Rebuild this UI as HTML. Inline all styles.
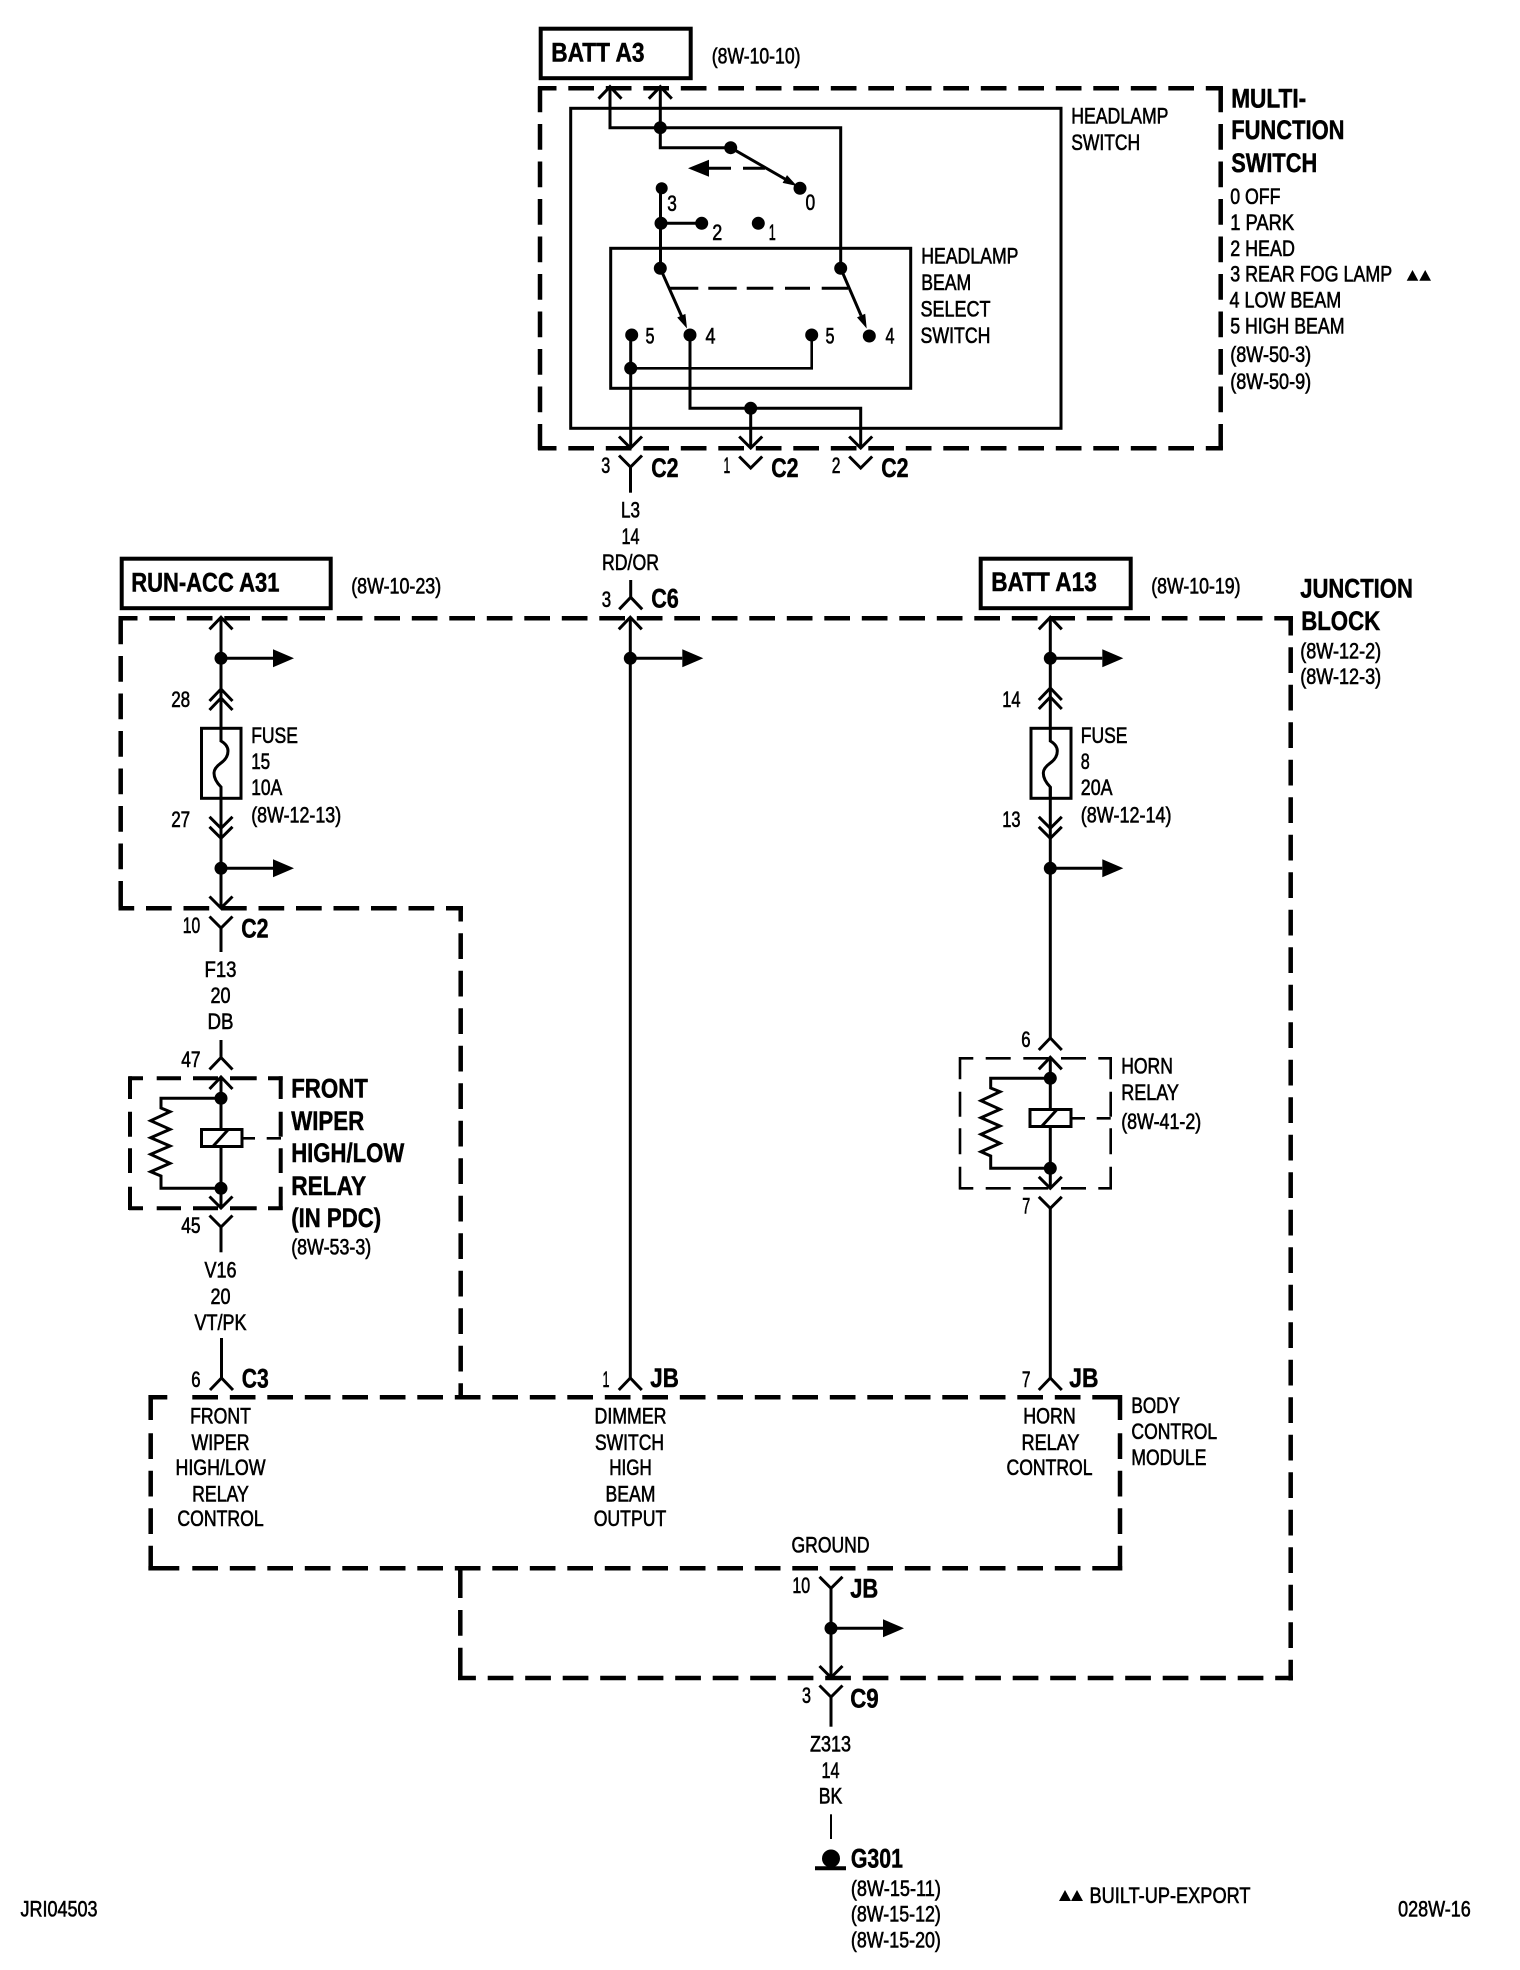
<!DOCTYPE html>
<html>
<head>
<meta charset="utf-8">
<style>
html,body{margin:0;padding:0;background:#fff}
svg{display:block}
text{font-family:"Liberation Sans",sans-serif;font-size:22px;fill:#000;stroke:#000;stroke-width:.6;transform:translate(-.5px,-.8px)}
text.b{font-weight:700;font-size:27px;stroke-width:.5}
text.m{text-anchor:middle}
.w{fill:none;stroke:#000;stroke-width:3}
.d{fill:none;stroke:#000;stroke-width:4.5;stroke-dasharray:25.7 11.8}
.s{fill:none;stroke:#000;stroke-width:4.5}
.t{fill:none;stroke:#000;stroke-width:4}
.h{fill:none;stroke:#000;stroke-width:2.6}
</style>
</head>
<body>
<svg xmlns="http://www.w3.org/2000/svg" width="1520" height="1970" viewBox="0 0 1520 1970">
<defs>
<path id="up" d="M-11.5,12 L0,0 L11.5,12" fill="none" stroke="#000" stroke-width="3"/>
<path id="dn" d="M-11.5,-11.5 L0,0 L11.5,-11.5" fill="none" stroke="#000" stroke-width="3"/>
<g id="br"><path d="M0,0H52" fill="none" stroke="#000" stroke-width="3"/><path d="M52,-9L73,0L52,9Z"/></g>
</defs>
<rect width="1520" height="1970" fill="#fff"/>

<!-- Multi-function switch -->
<rect x="540.7" y="28.7" width="150" height="49.5" class="t"/>
<path class="d" stroke-dashoffset="7.2" d="M538,88.3H1222.9"/>
<path class="d" stroke-dashoffset="7.2" d="M538,448.3H1222.9"/>
<path class="d" stroke-dashoffset="37" d="M540,86V450"/>
<path class="d" stroke-dashoffset="37" d="M1220.7,86V450"/>
<rect x="570.7" y="108.3" width="490.3" height="320" class="w"/>
<rect x="610.7" y="248.3" width="300" height="140" class="w"/>
<path class="w" d="M610,88V127.7H840.7V268.3"/>
<path class="w" d="M660.3,88V147.7H730.7"/>
<use href="#up" x="610" y="86.7"/><use href="#up" x="660.3" y="86.7"/>
<circle cx="660.3" cy="127.7" r="6.5"/>
<circle cx="730.7" cy="147.7" r="6.5"/>
<circle cx="800" cy="188.3" r="6.5"/>
<path class="w" stroke-width="3.5" d="M730.7,147.7L785,179"/>
<path d="M797,186L782.6,182.9L787,175.1Z"/>
<path d="M688,168.3L709,159.8V176.8Z"/>
<path class="w" d="M708,168.3H731M743,168.3H765"/>
<circle cx="661.7" cy="188.3" r="6"/>
<circle cx="661" cy="223.3" r="6.5"/>
<circle cx="701.7" cy="223.3" r="6.5"/>
<circle cx="758.3" cy="223.3" r="6.5"/>
<path class="w" d="M660.5,188.3V268.3M661,223.3H701.7"/>
<circle cx="660.3" cy="268.3" r="6.5"/>
<circle cx="840.7" cy="268.3" r="6.5"/>
<path class="w" d="M660.3,268.3L681.5,316M840.7,268.3L861.1,315.6"/>
<path d="M687,328.5L677.2,317.5L685.4,313.9Z"/>
<path d="M866.7,328.5L865.2,313.8L857,317.4Z"/>
<path class="w" d="M670,288.3H698.3M708.3,288.3H736.7M746.7,288.3H773.3M785,288.3H810M821.7,288.3H848"/>
<circle cx="631.7" cy="335" r="6.5"/>
<circle cx="690" cy="335" r="6.5"/>
<circle cx="811.7" cy="335" r="6.5"/>
<circle cx="869.3" cy="336" r="6.5"/>
<path class="w" d="M630.7,335V448"/>
<path class="h" d="M630.7,368.3H811.7V335"/>
<circle cx="630.7" cy="368.3" r="6.5"/>
<path class="w" d="M690,335V408.3H860.7V448M750.7,408.3V448"/>
<circle cx="750.7" cy="408.3" r="6.5"/>
<use href="#dn" x="630.5" y="448"/><use href="#dn" x="750.7" y="448"/><use href="#dn" x="860.7" y="448"/>
<use href="#dn" x="630.5" y="467"/><path class="w" d="M630.5,467V492.7"/>
<use href="#dn" x="750.7" y="468"/><use href="#dn" x="860.7" y="468"/>

<text class="b" x="551.7" y="62.3" textLength="93.3" lengthAdjust="spacingAndGlyphs">BATT A3</text>
<text x="712.3" y="64.3" textLength="88.7" lengthAdjust="spacingAndGlyphs">(8W-10-10)</text>
<text x="667.7" y="211.7" textLength="9.6" lengthAdjust="spacingAndGlyphs">3</text>
<text x="806" y="210.7" textLength="9.7" lengthAdjust="spacingAndGlyphs">0</text>
<text x="712.7" y="240.7" textLength="10" lengthAdjust="spacingAndGlyphs">2</text>
<text x="769.3" y="240.7" textLength="7" lengthAdjust="spacingAndGlyphs">1</text>
<text x="646" y="344.3" textLength="9" lengthAdjust="spacingAndGlyphs">5</text>
<text x="706" y="344.3" textLength="10" lengthAdjust="spacingAndGlyphs">4</text>
<text x="826" y="344.3" textLength="9" lengthAdjust="spacingAndGlyphs">5</text>
<text x="886" y="344.3" textLength="9" lengthAdjust="spacingAndGlyphs">4</text>
<text x="921.7" y="264.3" textLength="97.3" lengthAdjust="spacingAndGlyphs">HEADLAMP</text>
<text x="921.7" y="290.7" textLength="50" lengthAdjust="spacingAndGlyphs">BEAM</text>
<text x="921" y="317.3" textLength="70" lengthAdjust="spacingAndGlyphs">SELECT</text>
<text x="921" y="344" textLength="70" lengthAdjust="spacingAndGlyphs">SWITCH</text>
<text x="1071.7" y="124.3" textLength="97.3" lengthAdjust="spacingAndGlyphs">HEADLAMP</text>
<text x="1071.7" y="150.7" textLength="69" lengthAdjust="spacingAndGlyphs">SWITCH</text>
<text class="b" x="1231.7" y="108.3" textLength="75" lengthAdjust="spacingAndGlyphs">MULTI-</text>
<text class="b" x="1231.7" y="140" textLength="113.3" lengthAdjust="spacingAndGlyphs">FUNCTION</text>
<text class="b" x="1231.7" y="172.7" textLength="86" lengthAdjust="spacingAndGlyphs">SWITCH</text>
<text x="1230.7" y="205" textLength="50.3" lengthAdjust="spacingAndGlyphs">0 OFF</text>
<text x="1230.7" y="231" textLength="64" lengthAdjust="spacingAndGlyphs">1 PARK</text>
<text x="1230.7" y="256.7" textLength="64.7" lengthAdjust="spacingAndGlyphs">2 HEAD</text>
<text x="1230.7" y="282.3" textLength="162" lengthAdjust="spacingAndGlyphs">3 REAR FOG LAMP</text>
<text x="1230" y="308.3" textLength="111.7" lengthAdjust="spacingAndGlyphs">4 LOW BEAM</text>
<text x="1230.7" y="334.3" textLength="114.3" lengthAdjust="spacingAndGlyphs">5 HIGH BEAM</text>
<text x="1230.7" y="363" textLength="81" lengthAdjust="spacingAndGlyphs">(8W-50-3)</text>
<text x="1230.7" y="390" textLength="81" lengthAdjust="spacingAndGlyphs">(8W-50-9)</text>
<path d="M1412.5,270L1418.3,280.7H1406.7ZM1425.2,270L1431,280.7H1419.3Z"/>
<text x="601.7" y="474" textLength="9" lengthAdjust="spacingAndGlyphs">3</text>
<text class="b" x="651.7" y="477.7" textLength="27.3" lengthAdjust="spacingAndGlyphs">C2</text>
<text x="724" y="474" textLength="6.7" lengthAdjust="spacingAndGlyphs">1</text>
<text class="b" x="771.7" y="477.7" textLength="27.3" lengthAdjust="spacingAndGlyphs">C2</text>
<text x="832.3" y="474" textLength="8.7" lengthAdjust="spacingAndGlyphs">2</text>
<text class="b" x="881.7" y="477.7" textLength="27.3" lengthAdjust="spacingAndGlyphs">C2</text>
<text class="m" x="631" y="518.3" textLength="19" lengthAdjust="spacingAndGlyphs">L3</text>
<text class="m" x="631" y="545" textLength="18" lengthAdjust="spacingAndGlyphs">14</text>
<text class="m" x="631" y="570.7" textLength="57" lengthAdjust="spacingAndGlyphs">RD/OR</text>

<!-- Junction block -->
<rect x="121.7" y="558.7" width="209" height="49.5" class="t"/>
<rect x="980.7" y="558.7" width="150" height="49.5" class="t"/>
<text class="b" x="131.7" y="592.3" textLength="148.3" lengthAdjust="spacingAndGlyphs">RUN-ACC A31</text>
<text x="351.7" y="594.3" textLength="90" lengthAdjust="spacingAndGlyphs">(8W-10-23)</text>
<text class="b" x="991.7" y="591.7" textLength="105.6" lengthAdjust="spacingAndGlyphs">BATT A13</text>
<text x="1151.7" y="594.3" textLength="89.3" lengthAdjust="spacingAndGlyphs">(8W-10-19)</text>
<text class="b" x="1300.7" y="598.3" textLength="112.7" lengthAdjust="spacingAndGlyphs">JUNCTION</text>
<text class="b" x="1301.7" y="630.7" textLength="79" lengthAdjust="spacingAndGlyphs">BLOCK</text>
<text x="1300.7" y="659.3" textLength="81" lengthAdjust="spacingAndGlyphs">(8W-12-2)</text>
<text x="1300.7" y="685" textLength="81" lengthAdjust="spacingAndGlyphs">(8W-12-3)</text>

<path class="d" stroke-dashoffset="6.7" d="M118.5,618.3H1293"/>
<path class="d" stroke-dashoffset="35" d="M120.7,616V910"/>
<path class="d" stroke-dashoffset="10" d="M118.5,908.3H463"/>
<path class="d" stroke-dashoffset="10.2" d="M460.7,906V1399"/>
<path class="d" stroke-dashoffset="6.2" d="M1290.7,616V1680.5"/>
<path class="d" stroke-dashoffset="7.8" d="M458,1678H1293"/>
<path class="s" d="M460.3,1566V1598M460.3,1610V1635.7M460.3,1647.7V1680"/>

<!-- Left run -->
<path class="w" d="M221,618V728M221,787V908"/>
<use href="#up" x="221" y="617.3"/>
<circle cx="221" cy="658.3" r="6.5"/><use href="#br" x="221" y="658.3"/>
<use href="#up" x="221" y="689"/><use href="#up" x="221" y="698"/>
<rect x="201.5" y="728.3" width="39.5" height="70" class="w"/>
<path class="w" d="M221,728V741Q228,745 228,751Q228,758 221,763Q214,768 214,773Q214,780 221,787V798"/>
<use href="#dn" x="221" y="828.3"/><use href="#dn" x="221" y="838.3"/>
<circle cx="221" cy="868.3" r="6.5"/><use href="#br" x="221" y="868.3"/>
<use href="#dn" x="221" y="908"/>
<use href="#dn" x="221" y="928"/><path class="w" d="M221,928V952"/>
<text x="171.7" y="707.7" textLength="19" lengthAdjust="spacingAndGlyphs">28</text>
<text x="171.7" y="827.7" textLength="19" lengthAdjust="spacingAndGlyphs">27</text>
<text x="251.7" y="744" textLength="46.7" lengthAdjust="spacingAndGlyphs">FUSE</text>
<text x="251.7" y="770" textLength="19" lengthAdjust="spacingAndGlyphs">15</text>
<text x="251.7" y="796" textLength="31" lengthAdjust="spacingAndGlyphs">10A</text>
<text x="251.7" y="823.3" textLength="90" lengthAdjust="spacingAndGlyphs">(8W-12-13)</text>
<text x="183.3" y="934" textLength="17.4" lengthAdjust="spacingAndGlyphs">10</text>
<text class="b" x="241.7" y="938.3" textLength="27.3" lengthAdjust="spacingAndGlyphs">C2</text>
<text class="m" x="221" y="978" textLength="32" lengthAdjust="spacingAndGlyphs">F13</text>
<text class="m" x="221" y="1004" textLength="20" lengthAdjust="spacingAndGlyphs">20</text>
<text class="m" x="221" y="1030" textLength="26" lengthAdjust="spacingAndGlyphs">DB</text>

<path class="w" d="M221,1040V1058"/>
<use href="#up" x="221" y="1057.5"/>
<text x="181.7" y="1067.7" textLength="19.3" lengthAdjust="spacingAndGlyphs">47</text>
<path class="t" d="M129,1078.3H143M156.7,1078.3H181M193,1078.3H218M230,1078.3H256.7M268,1078.3H282.7"/>
<path class="t" d="M129,1208.3H143M156.7,1208.3H181M193,1208.3H218M230,1208.3H256.7M268,1208.3H282.7"/>
<path class="t" d="M130,1076.3V1099M130,1111.7V1136.7M130,1148.3V1173M130,1186.7V1210"/>
<path class="t" d="M280.7,1076.3V1099M280.7,1111.7V1136.7M280.7,1148.3V1173M280.7,1186.7V1210"/>
<use href="#up" x="221" y="1077"/>
<path class="w" d="M221,1077V1129M221,1146V1208"/>
<circle cx="221" cy="1098.3" r="6.5"/>
<circle cx="221" cy="1188.3" r="6.5"/>
<rect x="201.5" y="1129.5" width="40.5" height="17" fill="#fff" stroke="#000" stroke-width="3"/>
<path class="w" d="M213.3,1146L228.3,1129.5"/>
<path class="h" d="M242,1138.3H255M266.7,1138.3H281"/>
<path class="w" d="M221,1098.3H161V1108L170,1111.7L150.7,1120.7L170,1129.3L150.7,1137.7L170,1146L150.7,1154.3L170,1163.3L150.7,1171.7L161,1176V1188.3H221"/>
<use href="#dn" x="221" y="1208"/>
<use href="#dn" x="221" y="1227"/><path class="w" d="M221,1227V1252.3"/>
<text x="181.7" y="1234" textLength="19.3" lengthAdjust="spacingAndGlyphs">45</text>
<text class="b" x="291.7" y="1098.3" textLength="76.7" lengthAdjust="spacingAndGlyphs">FRONT</text>
<text class="b" x="291.7" y="1130.7" textLength="73" lengthAdjust="spacingAndGlyphs">WIPER</text>
<text class="b" x="291.7" y="1162.7" textLength="113" lengthAdjust="spacingAndGlyphs">HIGH/LOW</text>
<text class="b" x="291.7" y="1195.7" textLength="75" lengthAdjust="spacingAndGlyphs">RELAY</text>
<text class="b" x="291.7" y="1227.7" textLength="90" lengthAdjust="spacingAndGlyphs">(IN PDC)</text>
<text x="291.7" y="1255.5" textLength="80" lengthAdjust="spacingAndGlyphs">(8W-53-3)</text>
<text class="m" x="221" y="1278.3" textLength="32" lengthAdjust="spacingAndGlyphs">V16</text>
<text class="m" x="221" y="1305" textLength="20" lengthAdjust="spacingAndGlyphs">20</text>
<text class="m" x="221" y="1330.7" textLength="52" lengthAdjust="spacingAndGlyphs">VT/PK</text>
<path class="w" d="M221.5,1338V1378"/>
<use href="#up" x="221.5" y="1378"/>
<text x="191.7" y="1387.7" textLength="9.3" lengthAdjust="spacingAndGlyphs">6</text>
<text class="b" x="242.3" y="1388.3" textLength="27" lengthAdjust="spacingAndGlyphs">C3</text>

<!-- Middle run -->
<use href="#up" x="630.7" y="597.3"/>
<path class="w" d="M630.7,580V597.3"/>
<text x="602.3" y="607.7" textLength="9.4" lengthAdjust="spacingAndGlyphs">3</text>
<text class="b" x="651.7" y="608.3" textLength="27.6" lengthAdjust="spacingAndGlyphs">C6</text>
<use href="#up" x="630.3" y="617.3"/>
<path class="w" d="M630.3,617V1378"/>
<circle cx="630.3" cy="658.3" r="6.5"/><use href="#br" x="630.3" y="658.3"/>
<use href="#up" x="630.3" y="1378"/>
<text x="603" y="1387.7" textLength="7" lengthAdjust="spacingAndGlyphs">1</text>
<text class="b" x="650.8" y="1388" textLength="28.5" lengthAdjust="spacingAndGlyphs">JB</text>

<!-- Right run -->
<path class="w" d="M1050.3,617V728M1050.3,787V1038M1050.3,1058V1109M1050.3,1126V1188M1050.3,1208V1378"/>
<use href="#up" x="1050.3" y="617.3"/>
<circle cx="1050.3" cy="658.3" r="6.5"/><use href="#br" x="1050.3" y="658.3"/>
<use href="#up" x="1050.3" y="688"/><use href="#up" x="1050.3" y="697"/>
<rect x="1031" y="728.3" width="40" height="70" class="w"/>
<path class="w" d="M1050.3,728V741Q1057.3,745 1057.3,751Q1057.3,758 1050.3,763Q1043.3,768 1043.3,773Q1043.3,780 1050.3,787V798"/>
<use href="#dn" x="1050.3" y="828.3"/><use href="#dn" x="1050.3" y="838.3"/>
<circle cx="1050.3" cy="868.3" r="6.5"/><use href="#br" x="1050.3" y="868.3"/>
<text x="1002.7" y="707.7" textLength="18.3" lengthAdjust="spacingAndGlyphs">14</text>
<text x="1002.7" y="827.7" textLength="18.3" lengthAdjust="spacingAndGlyphs">13</text>
<text x="1081.3" y="744" textLength="46.7" lengthAdjust="spacingAndGlyphs">FUSE</text>
<text x="1081.3" y="770" textLength="9" lengthAdjust="spacingAndGlyphs">8</text>
<text x="1081.3" y="796" textLength="31.7" lengthAdjust="spacingAndGlyphs">20A</text>
<text x="1081.3" y="823.3" textLength="90.7" lengthAdjust="spacingAndGlyphs">(8W-12-14)</text>
<use href="#up" x="1050.3" y="1038"/>
<text x="1021.7" y="1047.7" textLength="9.3" lengthAdjust="spacingAndGlyphs">6</text>
<path class="h" d="M959,1058.3H973.3M985.7,1058.3H1010.7M1023.3,1058.3H1048.3M1061,1058.3H1086M1098.3,1058.3H1112"/>
<path class="h" d="M959,1188.3H973.3M985.7,1188.3H1010.7M1023.3,1188.3H1048.3M1061,1188.3H1086M1098.3,1188.3H1112"/>
<path class="h" d="M960,1057V1079.3M960,1091.7V1116.7M960,1128.3V1154.3M960,1166.7V1189.5"/>
<path class="h" d="M1110.7,1057V1079.3M1110.7,1091.7V1116.7M1110.7,1128.3V1154.3M1110.7,1166.7V1189.5"/>
<use href="#up" x="1050.3" y="1057.3"/>
<circle cx="1050.3" cy="1078.3" r="6.5"/>
<circle cx="1050.3" cy="1168.3" r="6.5"/>
<rect x="1030" y="1109.5" width="41" height="17" fill="#fff" stroke="#000" stroke-width="3"/>
<path class="w" d="M1042,1126L1057,1109.5"/>
<path class="h" d="M1071,1118.3H1085M1096.7,1118.3H1110.7"/>
<path class="w" d="M1050.3,1078.3H990.7V1088L1000,1091.7L981,1100.7L1000,1109.3L981,1117.7L1000,1126L981,1134.3L1000,1143.3L981,1151.7L990.7,1156V1168.3H1050.3"/>
<use href="#dn" x="1050.3" y="1188.3"/>
<use href="#dn" x="1050.3" y="1208.3"/>
<text x="1022.7" y="1214.3" textLength="8" lengthAdjust="spacingAndGlyphs">7</text>
<text x="1121.7" y="1074.3" textLength="51.7" lengthAdjust="spacingAndGlyphs">HORN</text>
<text x="1121.7" y="1100.7" textLength="57.7" lengthAdjust="spacingAndGlyphs">RELAY</text>
<text x="1121.7" y="1130" textLength="80" lengthAdjust="spacingAndGlyphs">(8W-41-2)</text>
<use href="#up" x="1050.3" y="1378"/>
<text x="1022.4" y="1388" textLength="8.6" lengthAdjust="spacingAndGlyphs">7</text>
<text class="b" x="1069.8" y="1388" textLength="29.2" lengthAdjust="spacingAndGlyphs">JB</text>

<!-- Body control module -->
<path class="s" d="M148.4,1397.3H167.3M148.4,1568.3H179.3M150.7,1395V1420M1118,1397.3H1122.2M1118,1568.3H1122.2M1120,1395V1420"/>
<path class="d" d="M192.3,1397.3H1122"/>
<path class="d" d="M192.3,1568.3H1122"/>
<path class="d" d="M150.7,1433.3V1570.5"/>
<path class="d" d="M1120,1433.3V1570.5"/>
<text class="m" x="221" y="1424.3" textLength="60.7" lengthAdjust="spacingAndGlyphs">FRONT</text>
<text class="m" x="221" y="1451" textLength="58" lengthAdjust="spacingAndGlyphs">WIPER</text>
<text class="m" x="221" y="1476" textLength="90" lengthAdjust="spacingAndGlyphs">HIGH/LOW</text>
<text class="m" x="221" y="1502.3" textLength="56.7" lengthAdjust="spacingAndGlyphs">RELAY</text>
<text class="m" x="221" y="1526.7" textLength="86.3" lengthAdjust="spacingAndGlyphs">CONTROL</text>
<text class="m" x="631" y="1424.3" textLength="72" lengthAdjust="spacingAndGlyphs">DIMMER</text>
<text class="m" x="630" y="1451" textLength="69" lengthAdjust="spacingAndGlyphs">SWITCH</text>
<text class="m" x="631" y="1476" textLength="42.5" lengthAdjust="spacingAndGlyphs">HIGH</text>
<text class="m" x="631" y="1502.3" textLength="50" lengthAdjust="spacingAndGlyphs">BEAM</text>
<text class="m" x="630.5" y="1526.7" textLength="72.6" lengthAdjust="spacingAndGlyphs">OUTPUT</text>
<text class="m" x="1050" y="1424.3" textLength="52.5" lengthAdjust="spacingAndGlyphs">HORN</text>
<text class="m" x="1051" y="1451" textLength="58" lengthAdjust="spacingAndGlyphs">RELAY</text>
<text class="m" x="1050" y="1476" textLength="86" lengthAdjust="spacingAndGlyphs">CONTROL</text>
<text x="1131.9" y="1414" textLength="48.6" lengthAdjust="spacingAndGlyphs">BODY</text>
<text x="1131.9" y="1440" textLength="85.8" lengthAdjust="spacingAndGlyphs">CONTROL</text>
<text x="1131.9" y="1465.7" textLength="75" lengthAdjust="spacingAndGlyphs">MODULE</text>
<text class="m" x="831" y="1553.3" textLength="78" lengthAdjust="spacingAndGlyphs">GROUND</text>

<!-- Ground run -->
<use href="#dn" x="831" y="1588.3"/>
<path class="w" d="M831,1588V1677"/>
<circle cx="831" cy="1628.3" r="6.5"/><use href="#br" x="831" y="1628.3"/>
<use href="#dn" x="831" y="1677.5"/>
<use href="#dn" x="831" y="1697"/>
<path class="w" d="M831,1697V1726.7"/>
<path d="M831,1814.3V1839" fill="none" stroke="#000" stroke-width="2"/>
<circle cx="831" cy="1858.5" r="9"/>
<path d="M815,1868.3H846" fill="none" stroke="#000" stroke-width="4"/>
<text x="792.9" y="1594" textLength="17.8" lengthAdjust="spacingAndGlyphs">10</text>
<text class="b" x="850.7" y="1598.3" textLength="28" lengthAdjust="spacingAndGlyphs">JB</text>
<text x="802.5" y="1704" textLength="9" lengthAdjust="spacingAndGlyphs">3</text>
<text class="b" x="850.7" y="1708.3" textLength="28.5" lengthAdjust="spacingAndGlyphs">C9</text>
<text class="m" x="831" y="1752.3" textLength="41" lengthAdjust="spacingAndGlyphs">Z313</text>
<text class="m" x="831" y="1779" textLength="18" lengthAdjust="spacingAndGlyphs">14</text>
<text class="m" x="831" y="1804.3" textLength="23.6" lengthAdjust="spacingAndGlyphs">BK</text>
<text class="b" x="851.4" y="1868.3" textLength="52" lengthAdjust="spacingAndGlyphs">G301</text>
<text x="851.4" y="1896.7" textLength="90" lengthAdjust="spacingAndGlyphs">(8W-15-11)</text>
<text x="851.4" y="1922.3" textLength="90" lengthAdjust="spacingAndGlyphs">(8W-15-12)</text>
<text x="851.4" y="1948.3" textLength="90" lengthAdjust="spacingAndGlyphs">(8W-15-20)</text>
<path d="M1065,1890L1071,1901H1059ZM1077,1890L1083,1901H1071Z"/>
<text x="1090" y="1904" textLength="161" lengthAdjust="spacingAndGlyphs">BUILT-UP-EXPORT</text>
<text x="21" y="1917.5" textLength="77" lengthAdjust="spacingAndGlyphs">JRI04503</text>
<text x="1398.6" y="1917.5" textLength="72.6" lengthAdjust="spacingAndGlyphs">028W-16</text>
</svg>
</body>
</html>
